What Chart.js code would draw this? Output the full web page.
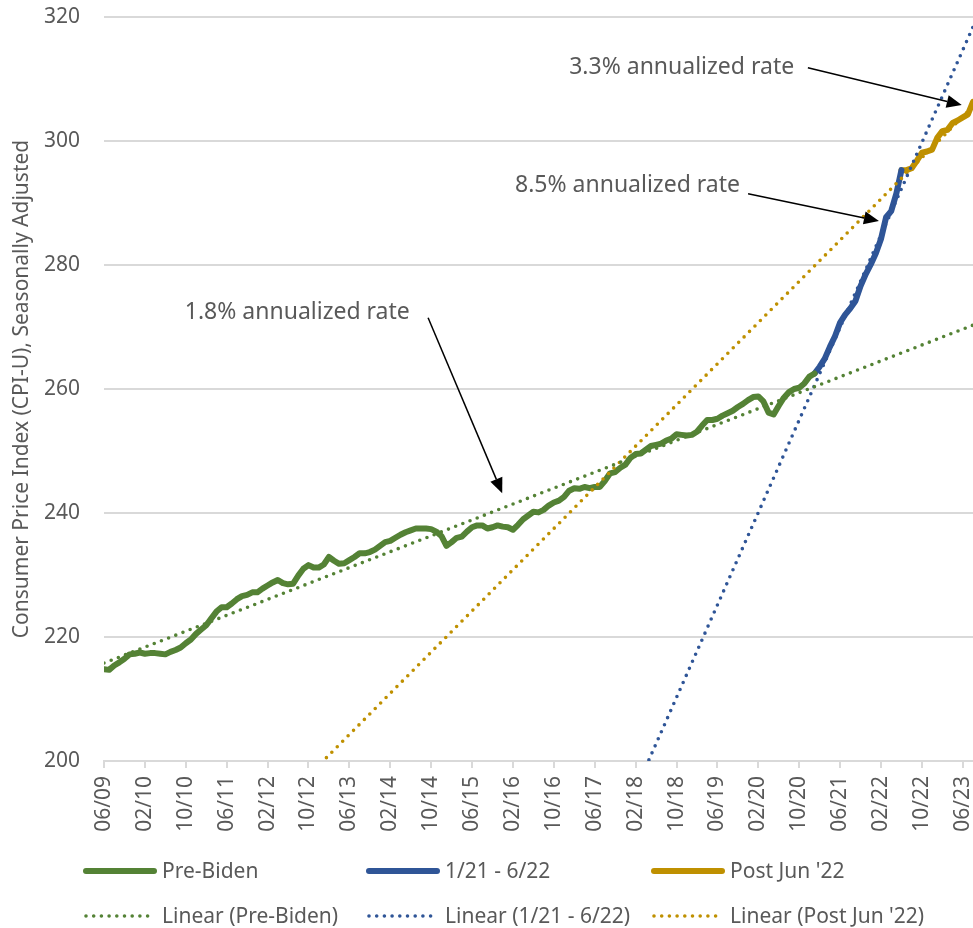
<!DOCTYPE html>
<html>
<head>
<meta charset="utf-8">
<script src="https://cdn.jsdelivr.net/npm/chart.js@4.4.1/dist/chart.umd.min.js"></script>
<style>
  html, body { margin: 0; padding: 0; background: #fff; }
</style>
</head>
<body>
<canvas id="cpi" width="973" height="928"></canvas>
<script>
// month index 0 = 06/09, one step per month
const tickLabels = ['06/09', '02/10', '10/10', '06/11', '02/12', '10/12', '06/13', '02/14', '10/14',
  '06/15', '02/16', '10/16', '06/17', '02/18', '10/18', '06/19', '02/20', '10/20', '06/21', '02/22',
  '10/22', '06/23']
const tickEvery = 8
const lastMonth = 170

// 06/09 - 01/21
const preBiden = [
  214.8, 214.7, 215.4, 215.9, 216.5, 217.2, 217.3,
  217.5, 217.3, 217.4, 217.4, 217.3, 217.2, 217.6, 217.9, 218.3, 219.0, 219.6, 220.5,
  221.2, 221.9, 223.0, 224.1, 224.8, 224.8, 225.4, 226.1, 226.6, 226.8, 227.2, 227.2,
  227.8, 228.3, 228.8, 229.2, 228.7, 228.5, 228.6, 229.9, 231.0, 231.6, 231.2, 231.2,
  231.7, 232.9, 232.3, 231.8, 231.9, 232.4, 232.9, 233.5, 233.5, 233.7, 234.1, 234.7,
  235.3, 235.5, 236.0, 236.5, 236.9, 237.2, 237.5, 237.5, 237.5, 237.4, 237.0, 236.3,
  234.7, 235.3, 236.0, 236.2, 237.0, 237.7, 238.0, 238.0, 237.5, 237.7, 238.0, 237.8,
  237.7, 237.3, 238.1, 239.0, 239.6, 240.2, 240.1, 240.5, 241.2, 241.7, 242.0, 242.6,
  243.6, 244.0, 243.9, 244.2, 244.0, 244.2, 244.2, 245.2, 246.4, 246.6, 247.3, 247.8,
  248.9, 249.5, 249.6, 250.2, 250.8, 251.0, 251.2, 251.7, 252.0, 252.7, 252.6, 252.5,
  252.6, 253.1, 254.1, 255.0, 255.0, 255.2, 255.7, 256.1, 256.5, 257.1, 257.6, 258.2,
  258.7, 258.8, 258.0, 256.2, 255.9, 257.3, 258.6, 259.5, 260.0, 260.2, 260.9, 262.0,
  262.5
]
const preStart = 0

// 01/21 - 06/22
const bidenEra = [262.5, 263.6, 264.9, 266.8, 268.5, 270.7, 272.0, 273.0, 274.2, 276.6, 278.5, 280.1,
  281.9, 284.2, 287.7, 288.7, 291.5, 295.3]
const bidenStart = 139

// 06/22 - 08/23
const postJun22 = [295.3, 295.3, 295.6, 296.8, 298.1, 298.3, 298.6, 300.5, 301.6, 301.8, 302.9, 303.3,
  303.8, 304.3, 306.3]
const postStart = 156

// trendline values read at the first and last month
const trendPre = [215.8, 270.3]
const trendBiden = [1.4, 318.4]
const trendPost = [164.4, 305.6]

const GREEN = '#548235'
const BLUE = '#2f5597'
const GOLD = '#bf9000'
const TEXT = '#595959'
const GRID = '#d9d9d9'
const FONT = "'Noto Sans', 'Open Sans', sans-serif"

const series = (label, values, start, color) => ({
  label: label,
  data: values.map((v, i) => ({ x: start + i, y: v })),
  borderColor: color,
  backgroundColor: color,
  borderWidth: 6,
  borderJoinStyle: 'round',
  borderCapStyle: 'round',
  pointRadius: 0,
  tension: 0,
  order: 2
})

const trend = (label, ends, color) => ({
  label: label,
  data: [{ x: 0, y: ends[0] }, { x: lastMonth, y: ends[1] }],
  borderColor: color,
  backgroundColor: color,
  borderWidth: 3.6,
  borderDash: [0, 7.7],
  borderCapStyle: 'round',
  pointRadius: 0,
  clip: 0,
  order: 1
})

const notes = [
  { text: '1.8% annualized rate', at: [15.8, 272.4], from: [63.4, 271.5], to: [77.9, 243.2] },
  { text: '8.5% annualized rate', at: [80.4, 292.9], from: [126.0, 291.5], to: [151.6, 287.1] },
  { text: '3.3% annualized rate', at: [91.0, 311.9], from: [137.7, 311.8], to: [167.8, 305.8] }
]

const notesPlugin = {
  id: 'notes',
  afterDatasetsDraw(chart) {
    const ctx = chart.ctx
    const xs = chart.scales.x
    const ys = chart.scales.y
    ctx.save()
    ctx.font = "23px " + FONT
    ctx.textAlign = 'left'
    ctx.textBaseline = 'middle'
    notes.forEach(n => {
      ctx.fillStyle = TEXT
      ctx.fillText(n.text, xs.getPixelForValue(n.at[0]), ys.getPixelForValue(n.at[1]))
      const x1 = xs.getPixelForValue(n.from[0]), y1 = ys.getPixelForValue(n.from[1])
      const x2 = xs.getPixelForValue(n.to[0]), y2 = ys.getPixelForValue(n.to[1])
      const ang = Math.atan2(y2 - y1, x2 - x1)
      const head = 15, half = 6.5
      const bx = x2 - head * Math.cos(ang), by = y2 - head * Math.sin(ang)
      ctx.strokeStyle = '#000'
      ctx.lineWidth = 1.5
      ctx.beginPath()
      ctx.moveTo(x1, y1)
      ctx.lineTo(bx, by)
      ctx.stroke()
      ctx.fillStyle = '#000'
      ctx.beginPath()
      ctx.moveTo(x2, y2)
      ctx.lineTo(bx + half * Math.sin(ang), by - half * Math.cos(ang))
      ctx.lineTo(bx - half * Math.sin(ang), by + half * Math.cos(ang))
      ctx.closePath()
      ctx.fill()
    })
    ctx.restore()
  }
}

// legend laid out in a 3 x 2 grid like the original
const legendPlugin = {
  id: 'gridLegend',
  afterDraw(chart) {
    const ctx = chart.ctx
    const cols = [84, 367, 652]
    const rows = [871, 916]
    ctx.save()
    ctx.font = "21px " + FONT
    ctx.textAlign = 'left'
    ctx.textBaseline = 'middle'
    chart.data.datasets.forEach((ds, i) => {
      const x = cols[i % 3]
      const y = rows[Math.floor(i / 3)]
      ctx.strokeStyle = ds.borderColor
      ctx.lineWidth = ds.borderWidth
      ctx.lineCap = 'round'
      ctx.setLineDash(ds.borderDash || [])
      ctx.beginPath()
      ctx.moveTo(x + 2, y)
      ctx.lineTo(x + 70, y)
      ctx.stroke()
      ctx.setLineDash([])
      ctx.fillStyle = TEXT
      ctx.fillText(ds.label, x + 78, y + 1)
    })
    ctx.restore()
  }
}

new Chart(document.getElementById('cpi'), {
  type: 'line',
  data: {
    datasets: [
      series('Pre-Biden', preBiden, preStart, GREEN),
      series('1/21 - 6/22', bidenEra, bidenStart, BLUE),
      series("Post Jun '22", postJun22, postStart, GOLD),
      trend('Linear (Pre-Biden)', trendPre, GREEN),
      trend('Linear (1/21 - 6/22)', trendBiden, BLUE),
      trend("Linear (Post Jun '22)", trendPost, GOLD)
    ]
  },
  options: {
    responsive: false,
    animation: false,
    layout: { padding: { top: 17, right: 0, bottom: 87, left: 0 } },
    plugins: {
      legend: { display: false },
      tooltip: { enabled: false }
    },
    scales: {
      x: {
        type: 'linear',
        min: 0,
        max: lastMonth,
        afterBuildTicks: s => { s.ticks = tickLabels.map((t, i) => ({ value: i * tickEvery })) },
        afterFit: s => { s.height = 80; s.paddingLeft = 0; s.paddingRight = 0 },
        ticks: {
          autoSkip: false,
          minRotation: 90,
          maxRotation: 90,
          padding: 8,
          color: TEXT,
          font: { family: FONT, size: 21 },
          callback: (v) => tickLabels[Math.round(v / tickEvery)]
        },
        grid: { drawOnChartArea: false, drawTicks: true, tickLength: 7, color: GRID, lineWidth: 2 },
        border: { display: true, color: GRID, width: 2 }
      },
      y: {
        min: 200,
        max: 320,
        afterFit: s => { s.width = 104; s.paddingTop = 0; s.paddingBottom = 0 },
        ticks: {
          stepSize: 20,
          padding: 24,
          color: TEXT,
          font: { family: FONT, size: 21 }
        },
        grid: { color: GRID, lineWidth: 2, drawTicks: false },
        border: { display: false },
        title: {
          display: true,
          text: 'Consumer Price Index (CPI-U), Seasonally Adjusted',
          color: TEXT,
          font: { family: FONT, size: 21 },
          padding: { top: 9, bottom: 0 }
        }
      }
    }
  },
  plugins: [notesPlugin, legendPlugin]
})
</script>
</body>
</html>
